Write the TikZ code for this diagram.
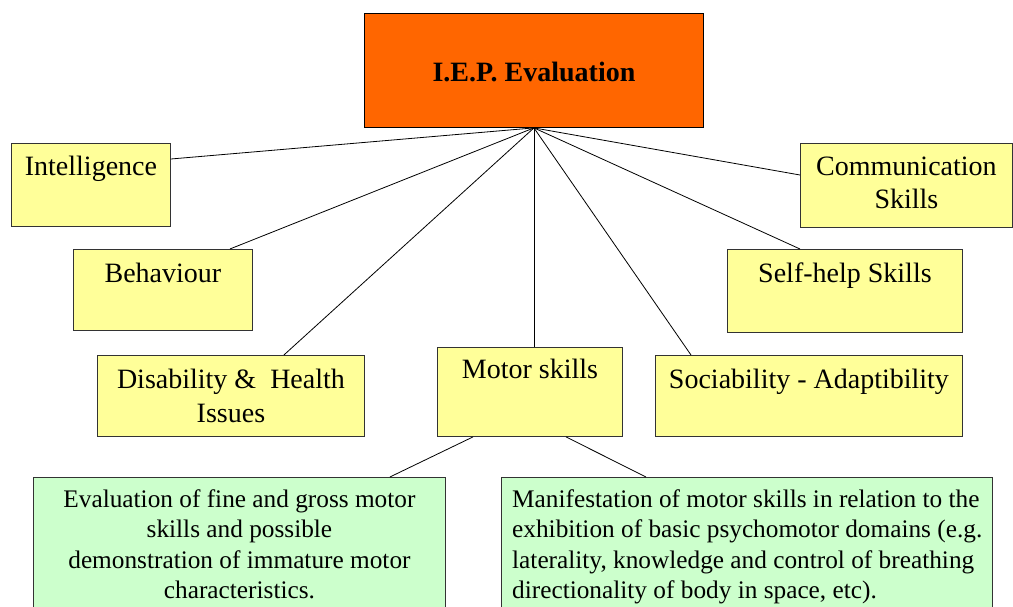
\documentclass[tikz,border=0pt]{standalone}
\usepackage{fontspec}
\setmainfont{Liberation Serif}
\definecolor{orangebox}{HTML}{FF6600}
\definecolor{yellowbox}{HTML}{FFFF99}
\definecolor{greenbox}{HTML}{CCFFCC}
\definecolor{edgegray}{HTML}{333333}
\begin{document}
\begin{tikzpicture}[x=1pt,y=-1pt,
  box/.style={draw=edgegray, line width=0.9pt, inner sep=0pt, anchor=north west},
  ybox/.style={box, fill=yellowbox},
  gbox/.style={box, fill=greenbox},
  obox/.style={box, fill=orangebox, draw=black},
  lbl/.style={font=\fontsize{28}{34}\selectfont, align=center, anchor=base, inner sep=0pt},
  glbl/.style={font=\fontsize{25.3}{30.5}\selectfont, inner sep=0pt, anchor=base},
  conn/.style={draw=black, line width=0.8pt}]
\useasboundingbox (0,0) rectangle (1013,607);
\fill[white] (0,0) rectangle (1013,607);
\clip (0,0) rectangle (1013,607);
% boxes
\node[obox, minimum width=339pt, minimum height=114pt] (top) at (364,13) {};
\node[ybox, minimum width=159pt, minimum height=83pt] (intel) at (11,143) {};
\node[ybox, minimum width=179pt, minimum height=81pt] (behav) at (73,249) {};
\node[ybox, minimum width=267pt, minimum height=81pt] (disab) at (97,355) {};
\node[ybox, minimum width=185pt, minimum height=89pt] (motor) at (437,347) {};
\node[ybox, minimum width=307pt, minimum height=81pt] (soc) at (655,355) {};
\node[ybox, minimum width=235pt, minimum height=83pt] (self) at (727,249) {};
\node[ybox, minimum width=212pt, minimum height=84pt] (comm) at (800,143) {};
\node[gbox, minimum width=412pt, minimum height=170pt] (gleft) at (33,477) {};
\node[gbox, minimum width=491pt, minimum height=170pt] (gright) at (501,477) {};
% texts (anchor=base is the baseline of the last line)
\node[lbl, font=\fontsize{28}{34}\selectfont\bfseries] (topT) at ([yshift=-11pt]top.center) {I.E.P. Evaluation};
\node[lbl] (intelT) at ([yshift=-33pt]intel.north) {Intelligence};
\node[lbl] (behavT) at ([yshift=-33pt]behav.north) {Behaviour};
\node[lbl] (disabT) at ([yshift=-67pt]disab.north) {Disability \&\ \ Health\\Issues};
\node[lbl] (motorT) at ([yshift=-31pt]motor.north) {Motor skills};
\node[lbl] (socT) at ([yshift=-33pt]soc.north) {Sociability - Adaptibility};
\node[lbl] (selfT) at ([yshift=-33pt]self.north) {Self-help Skills};
\node[lbl] (commT) at ([yshift=-66pt]comm.north) {Communication\\Skills};
\node[glbl, align=center] (gleftT) at ([yshift=-121.5pt]gleft.north) {Evaluation of fine and gross motor\\skills and possible\\demonstration of immature motor\\characteristics.};
\node[glbl, align=left, anchor=base west] (grightT) at ([xshift=11pt,yshift=-121.5pt]gright.north west) {Manifestation of motor skills in relation to the\\exhibition of basic psychomotor domains (e.g.\\laterality, knowledge and control of breathing\\directionality of body in space, etc).};
% connectors
\draw[conn] (top.south) -- ([yshift=-16pt]intel.north east);
\draw[conn] (top.south) -- ([xshift=-23pt]behav.north east);
\draw[conn] (top.south) -- ([xshift=-81pt]disab.north east);
\draw[conn] (top.south) -- (top.south |- motor.north);
\draw[conn] (top.south) -- ([xshift=36pt]soc.north west);
\draw[conn] (top.south) -- ([xshift=73pt]self.north west);
\draw[conn] (top.south) -- ([yshift=-32pt]comm.north west);
\draw[conn] ([xshift=36pt]motor.south west) -- ([xshift=-56pt]gleft.north east);
\draw[conn] ([xshift=129pt]motor.south west) -- ([xshift=145pt]gright.north west);
\end{tikzpicture}
\end{document}
